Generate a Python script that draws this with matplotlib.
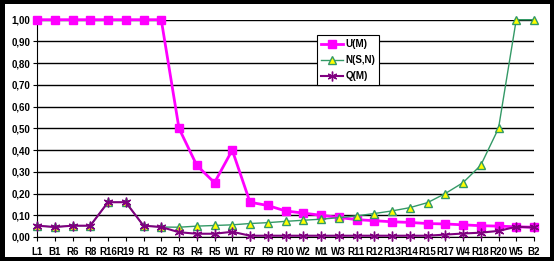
import numpy as np
import matplotlib.pyplot as plt
from matplotlib.ticker import FuncFormatter
from matplotlib.patches import Rectangle

plt.rcParams['font.family'] = ['Liberation Sans', 'DejaVu Sans']
plt.rcParams['font.weight'] = 'bold'

cats = ['L1', 'B1', 'R6', 'R8', 'R16', 'R19', 'R1', 'R2', 'R3', 'R4', 'R5', 'W1',
        'R7', 'R9', 'R10', 'W2', 'M1', 'W3', 'R11', 'R12', 'R13', 'R14', 'R15',
        'R17', 'W4', 'R18', 'R20', 'W5', 'B2']

u_m = [1.0, 1.0, 1.0, 1.0, 1.0, 1.0, 1.0, 1.0, 0.50, 0.33, 0.25, 0.40,
       0.16, 0.145, 0.12, 0.11, 0.10, 0.09, 0.08, 0.075, 0.07, 0.067, 0.062,
       0.06, 0.056, 0.052, 0.05, 0.047, 0.045]

n_sn = [0.052, 0.046, 0.052, 0.052, 0.16, 0.16, 0.052, 0.046, 0.045, 0.05, 0.053, 0.056,
        0.062, 0.066, 0.072, 0.077, 0.082, 0.089, 0.097, 0.108, 0.12, 0.135, 0.158,
        0.2, 0.25, 0.33, 0.50, 1.0, 1.0]

q_m = [0.052, 0.046, 0.052, 0.052, 0.16, 0.16, 0.052, 0.046, 0.022, 0.015, 0.015, 0.024,
       0.006, 0.006, 0.006, 0.006, 0.006, 0.006, 0.006, 0.006, 0.006, 0.006, 0.006,
       0.011, 0.016, 0.02, 0.028, 0.047, 0.044]

fig = plt.figure(figsize=(5.54, 2.61), dpi=100, facecolor='black')
fig.patches.append(Rectangle((5 / 554, 4 / 261), 545 / 554, 253 / 261,
                             transform=fig.transFigure, facecolor='white',
                             edgecolor='none', zorder=-10))

ax = fig.add_axes([37 / 554, 24 / 261, 497 / 554, 217.3 / 261])
ax.set_facecolor('none')
x = np.arange(len(cats))

ax.plot(x, u_m, color='#ff00ff', lw=2, marker='s', ms=5.5,
        mfc='#ff00ff', mec='#ff00ff', label='U(M)', clip_on=False, zorder=3)
ax.plot(x, n_sn, color='#339966', lw=1, marker='^', ms=5.5,
        mfc='#ffff00', mec='#339966', label='N(S,N)', clip_on=False, zorder=4)
ax.plot(x, q_m, color='#800080', lw=1.5, marker=(6, 2, 0), ms=7,
        mec='#800080', label='Q(M)', clip_on=False, zorder=5)

ax.set_xlim(0, len(cats) - 1)
ax.set_ylim(0, 1)
ax.set_yticks(np.arange(0, 1.01, 0.1))
ax.yaxis.set_major_formatter(FuncFormatter(lambda v, p: f'{v:.2f}'.replace('.', ',')))
ax.set_xticks(x)
ax.set_xticklabels(cats)
ax.grid(axis='y', color='black', lw=1)
ax.set_axisbelow(True)
for s in ['top', 'right']:
    ax.spines[s].set_visible(False)
ax.tick_params(axis='both', labelsize=7, length=3, color='black', pad=2)
ax.tick_params(axis='x', pad=4)

leg = ax.legend(loc='upper left', bbox_to_anchor=(317 / 554, 1 - 35 / 261),
                bbox_transform=fig.transFigure, borderaxespad=0, fontsize=7,
                fancybox=False, edgecolor='black', framealpha=1,
                handlelength=2.2, borderpad=0.45, labelspacing=0.6,
                handletextpad=0.25)
leg.get_frame().set_linewidth(0.8)

fig.savefig('out.png', dpi=100, facecolor='black')
